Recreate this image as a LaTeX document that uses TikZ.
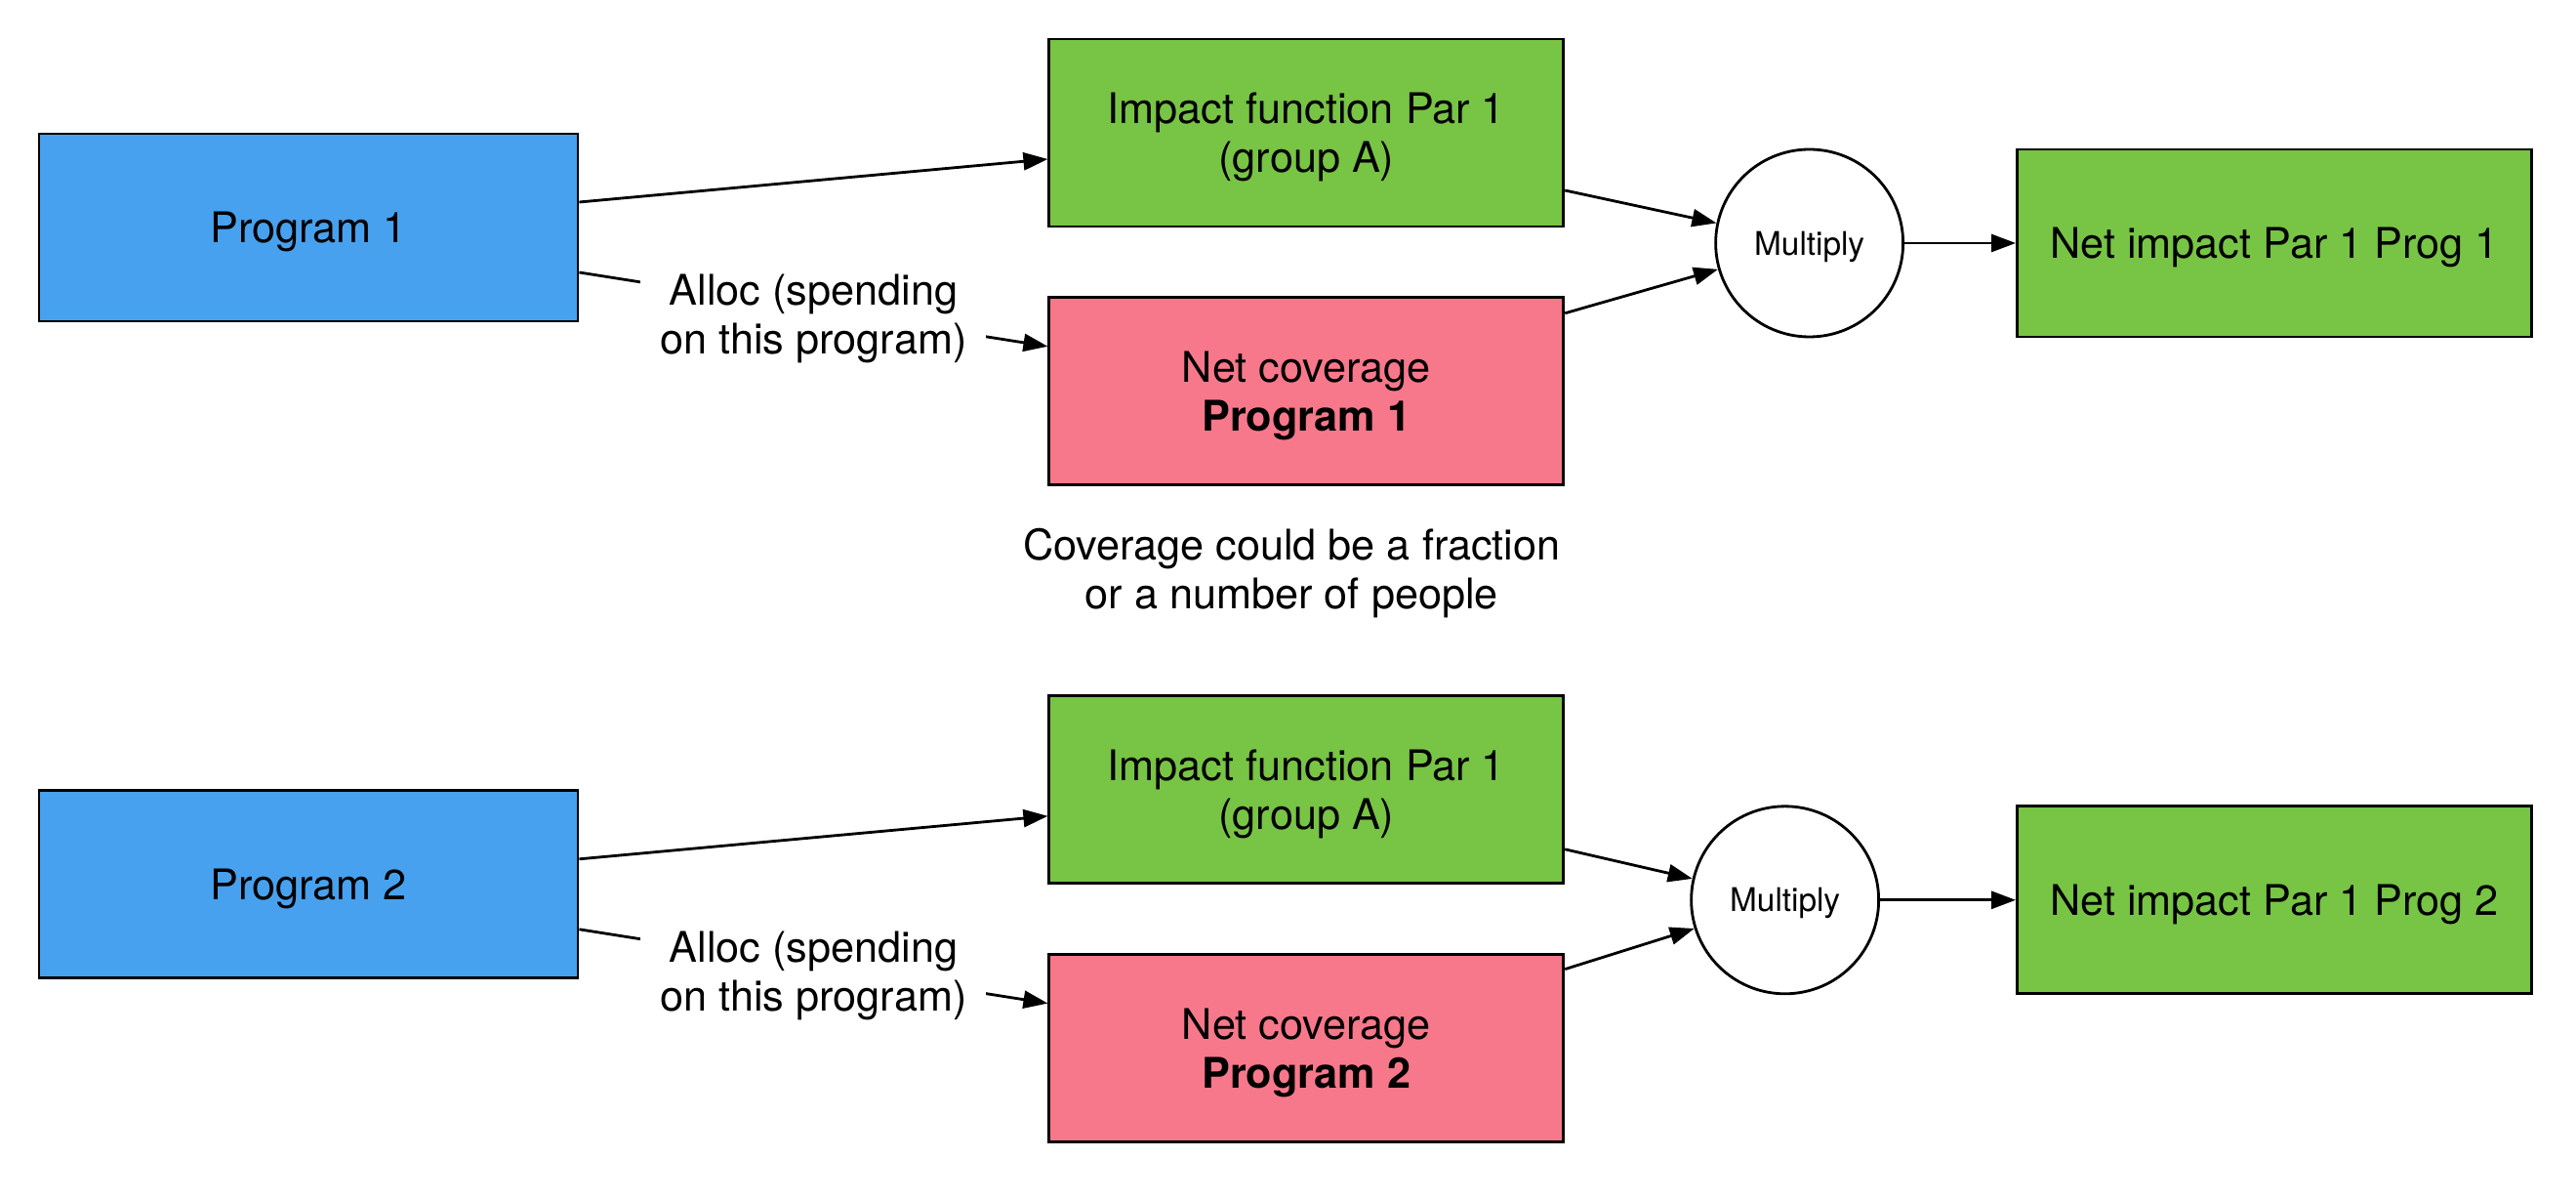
\documentclass[tikz,border=0pt]{standalone}
\usepackage{fontspec}
\setmainfont{TeX Gyre Heros}
\usetikzlibrary{arrows.meta, positioning}

\definecolor{progblue}{RGB}{71,161,238}
\definecolor{impgreen}{RGB}{120,196,69}
\definecolor{covpink}{RGB}{247,120,138}

\begin{document}
\begin{tikzpicture}[
    every node/.style={font=\fontsize{12.3}{14.3}\selectfont, text depth=0pt},
    progbox/.style={rectangle, draw=black, fill=progblue, line width=0.8pt, minimum height=1.92cm, minimum width=5.52cm},
    impbox/.style={rectangle, draw=black, fill=impgreen, line width=0.8pt, minimum height=1.92cm, minimum width=5.27cm, align=center},
    covbox/.style={rectangle, draw=black, fill=covpink, line width=0.8pt, minimum height=1.92cm, minimum width=5.27cm, align=center},
    multnode/.style={circle, draw=black, fill=white, line width=0.8pt, minimum size=1.92cm, font=\fontsize{9.5}{11}\selectfont},
    alloclabel/.style={fill=white, align=center, inner xsep=0.2cm, inner ysep=0pt, yshift=-0.05cm},
    ->, line width=0.8pt, >={Triangle[length=0.25cm, width=0.18cm]}
]
\useasboundingbox (0,0) rectangle (26.39,-12.28);

% Program 1
\node[progbox]  (prog1)  at (3.16,-2.33)                        {Program 1};
\node[impbox]   (imp1)   [right=4.8cm of prog1, yshift=0.97cm]  {Impact function Par 1\\(group A)};
\node[covbox]   (cov1)   [below=0.70cm of imp1]                 {Net coverage\\\textbf{Program 1}};
\node[multnode] (mult1)  [right=1.53cm of imp1, yshift=-1.13cm] {Multiply};
\node[impbox]   (net1)   [right=1.14cm of mult1]                {Net impact Par 1 Prog 1};
\node[align=center] (note) [below=0.3cm of cov1, xshift=-0.15cm] {Coverage could be a fraction\\or a number of people};

% Program 2
\node[progbox]  (prog2)  [below=4.78cm of prog1]                {Program 2};
\node[impbox]   (imp2)   [right=4.8cm of prog2, yshift=0.97cm]  {Impact function Par 1\\(group A)};
\node[covbox]   (cov2)   [below=0.70cm of imp2]                 {Net coverage\\\textbf{Program 2}};
\node[multnode] (mult2)  [right=1.28cm of imp2, yshift=-1.13cm] {Multiply};
\node[impbox]   (net2)   [right=1.39cm of mult2]                {Net impact Par 1 Prog 2};

% Arrows
\draw[->] ([yshift=0.26cm]prog1.east) -- ([yshift=-0.27cm]imp1.west);
\draw[->] ([yshift=-0.46cm]prog1.east) -- node[alloclabel] (alloc1) {Alloc (spending\\on this program)} ([yshift=0.46cm]cov1.west);
\draw[->] ([yshift=-0.59cm]imp1.east) -- (mult1);
\draw[->] ([yshift=0.8cm]cov1.east) -- (mult1);
\draw[->] (mult1) -- (net1);

\draw[->] ([yshift=0.26cm]prog2.east) -- ([yshift=-0.27cm]imp2.west);
\draw[->] ([yshift=-0.46cm]prog2.east) -- node[alloclabel] (alloc2) {Alloc (spending\\on this program)} ([yshift=0.46cm]cov2.west);
\draw[->] ([yshift=-0.61cm]imp2.east) -- (mult2);
\draw[->] ([yshift=0.81cm]cov2.east) -- (mult2);
\draw[->] (mult2) -- (net2);

\end{tikzpicture}
\end{document}
